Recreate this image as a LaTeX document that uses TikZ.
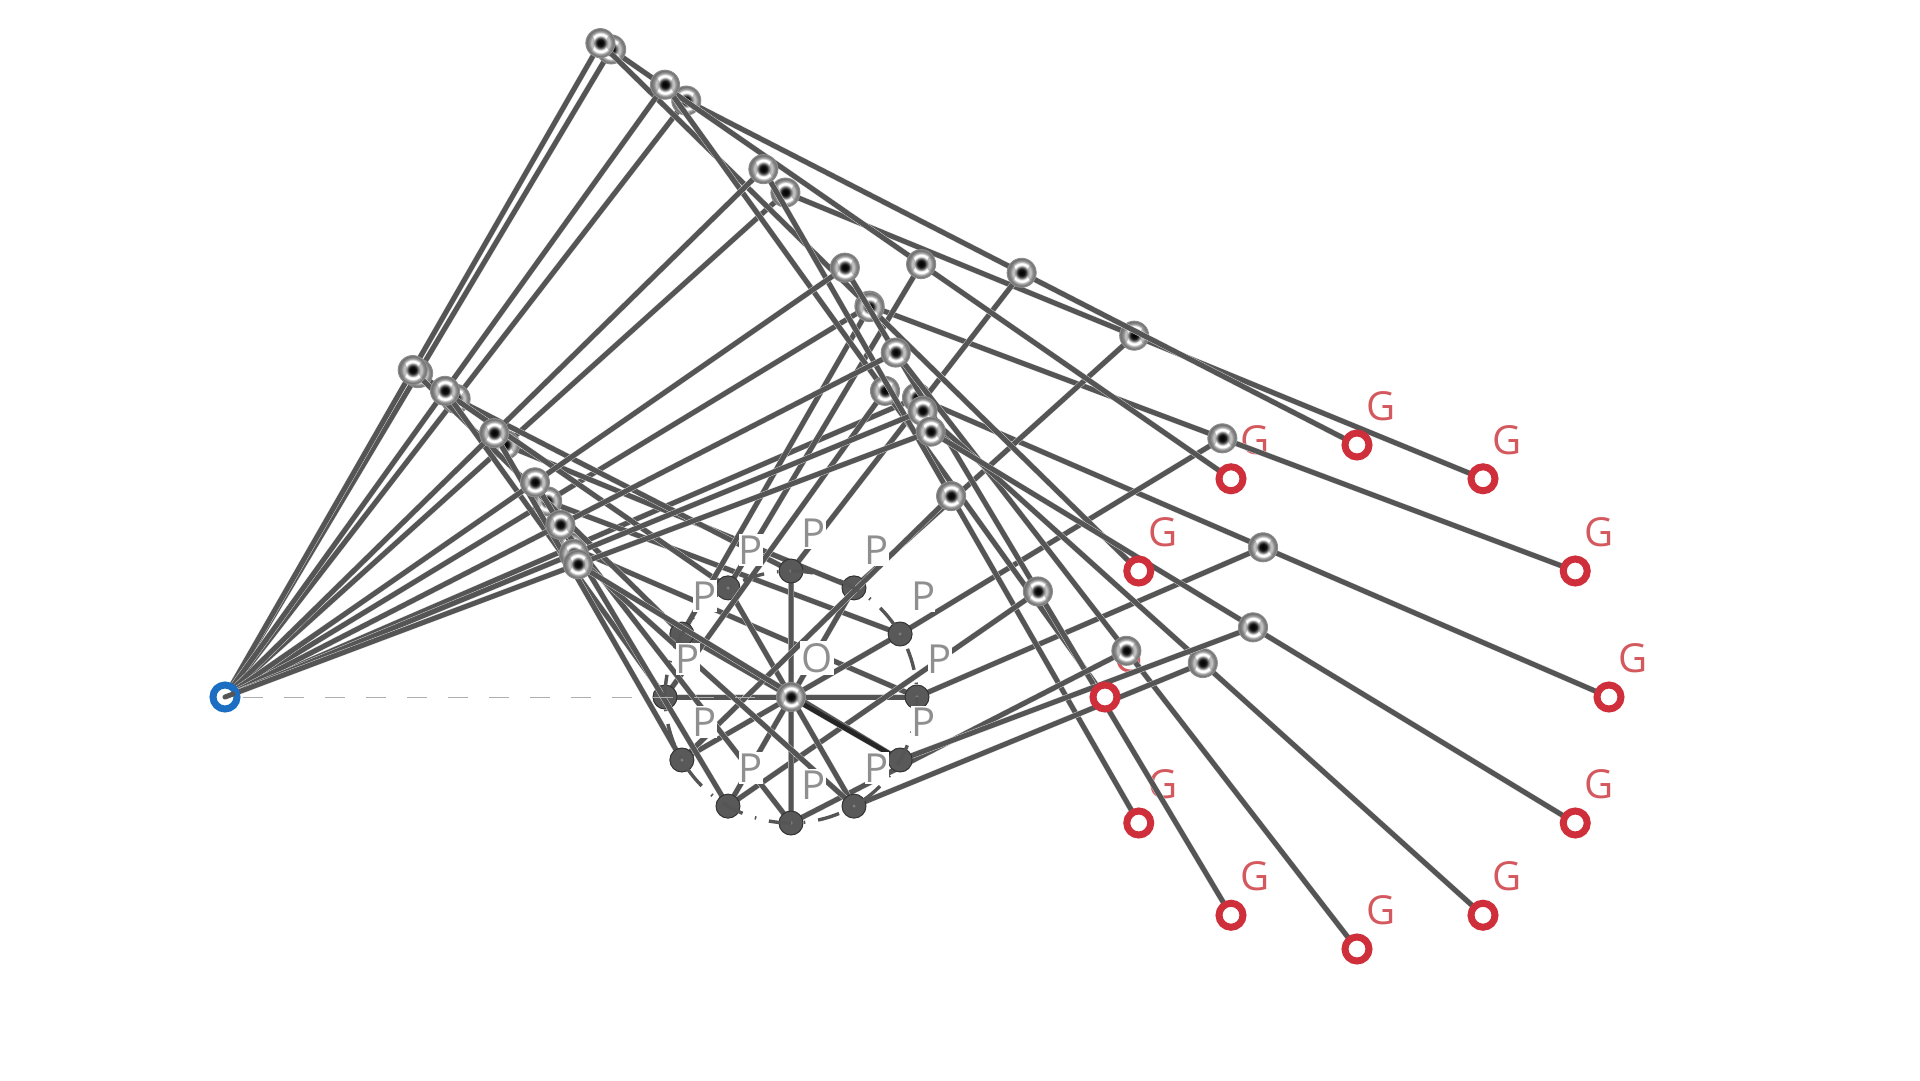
\documentclass[tikz,border=0pt]{standalone}
\usepackage{fontspec}
\usetikzlibrary{calc}
\setmainfont{Open Sans}
\definecolor{rodc}{HTML}{555555}
\definecolor{haloc}{HTML}{D8D8D8}
\definecolor{ptxt}{HTML}{8F8F8F}
\definecolor{gtxt}{HTML}{D4595E}
\definecolor{redc}{HTML}{CE2F3A}
\definecolor{bluec}{HTML}{1B6EC2}
\pgfdeclareradialshading{metalball}{\pgfpoint{0bp}{0.5bp}}{
 color(0bp)=(black); color(6bp)=(black!92); color(10bp)=(black!50); color(13bp)=(white);
 color(16bp)=(white); color(19bp)=(black!35); color(23bp)=(black!55); color(35bp)=(black!60); color(50bp)=(black!60)}
\tikzset{
 rod/.style={draw=haloc,line width=5.9pt,postaction={draw=rodc,line width=5pt}},
 ball/.style={circle,inner sep=0pt,minimum size=29pt,shading=metalball,draw=black!45,line width=1pt,
   path picture={
     \fill[black!55,opacity=.45] ($(path picture bounding box.center)+(-10.5,0)$) ellipse (5pt and 8pt);
     \fill[black!55,opacity=.45] ($(path picture bounding box.center)+(10.5,0)$) ellipse (5pt and 8pt);}},
 pnode/.style={circle,inner sep=0pt,minimum size=24pt,fill=black!65,draw=black!80,line width=1pt},
 gnode/.style={circle,inner sep=0pt,minimum size=24pt,fill=white,draw=redc,line width=7pt},
 snode/.style={circle,inner sep=0pt,minimum size=24pt,draw=bluec,line width=7pt},
 ptext/.style={inner sep=0pt,minimum width=23pt,minimum height=32pt,fill=white,text=ptxt,font=\fontsize{40pt}{40pt}\selectfont},
 gtext/.style={inner sep=0pt,text=gtxt,font=\fontsize{40pt}{40pt}\selectfont},
 circ/.style={draw=rodc,line width=3.4pt,dash pattern=on 22pt off 13pt on 1.5pt off 13pt},
 axis/.style={draw=black!32,line width=1pt,dash pattern=on 19.5pt off 21.5pt,dash phase=23pt}
}
\begin{document}
\begin{tikzpicture}[x=1pt,y=-1pt]
\useasboundingbox (0,0) rectangle (1920,1080);
\coordinate (S) at (225,697);
\coordinate (O) at (791,697);
% G labels lie beneath everything
\foreach \t in {0,30,...,330}{
  \pgfmathsetmacro\Gx{225+2*(566+126*cos(\t))}
  \pgfmathsetmacro\Gy{697-2*126*sin(\t)}
  \node[gtext] (LG\t) at (\Gx+24,\Gy-39) {G};
}
\foreach \t in {0,30,...,330}{
  \pgfmathsetmacro\px{5.66+1.26*cos(\t)}
  \pgfmathsetmacro\py{1.26*sin(\t)}
  \pgfmathsetmacro\pn{sqrt(\px*\px+\py*\py)}
  \pgfmathsetmacro\hh{sqrt(7.54*7.54-\pn*\pn)}
  \pgfmathsetmacro\cx{\px-\hh*\py/\pn}
  \pgfmathsetmacro\cy{\py+\hh*\px/\pn}
  \coordinate (p\t) at ({225+100*\px},{697-100*\py});
  \coordinate (g\t) at ({225+200*\px},{697-200*\py});
  \coordinate (c\t) at ({225+100*\cx},{697-100*\cy});
  \coordinate (d\t) at ($(S)!0.5!(c\t)$);
  \coordinate (e\t) at ($(c\t)!0.5!(g\t)$);
  \draw[rod] (O) -- (p\t);
  \draw[rod] (S) -- (c\t);
  \draw[rod] (c\t) -- (g\t);
  \draw[rod] (d\t) -- (p\t);
  \draw[rod] (e\t) -- (p\t);
  \node[pnode] (P\t) at (p\t) {};
  \fill[black!40] (p\t) circle (1.6pt);
  \fill[black!65] (p\t) circle (0.8pt);
  \node[ball] (C\t) at (c\t) {};
  \node[ball] (D\t) at (d\t) {};
  \node[ball] (E\t) at (e\t) {};
}
\draw[line width=4.6pt,black!85] (O) -- (P330);
\draw[axis] (S) -- (O);
\draw[circ] plot[domain=0:360,samples=145] ({791+126*sin(\x)},{697-126*cos(\x)});
\foreach \t in {0,30,...,330}{
  \node[ptext] (LP\t) at ($(p\t)+(23,-38)$) {P};
  \node[gnode] (G\t) at (g\t) {};
}
\node[ptext,minimum width=34pt,minimum height=34pt] (LO) at ($(O)+(26,-39)$) {O};
\node[ball] (Onode) at (O) {};
\node[snode,fill=white] (Snode) at (S) {};
\draw[rodc,line width=5pt,line cap=round] (S) -- ++(8,-3);
\end{tikzpicture}
\end{document}
